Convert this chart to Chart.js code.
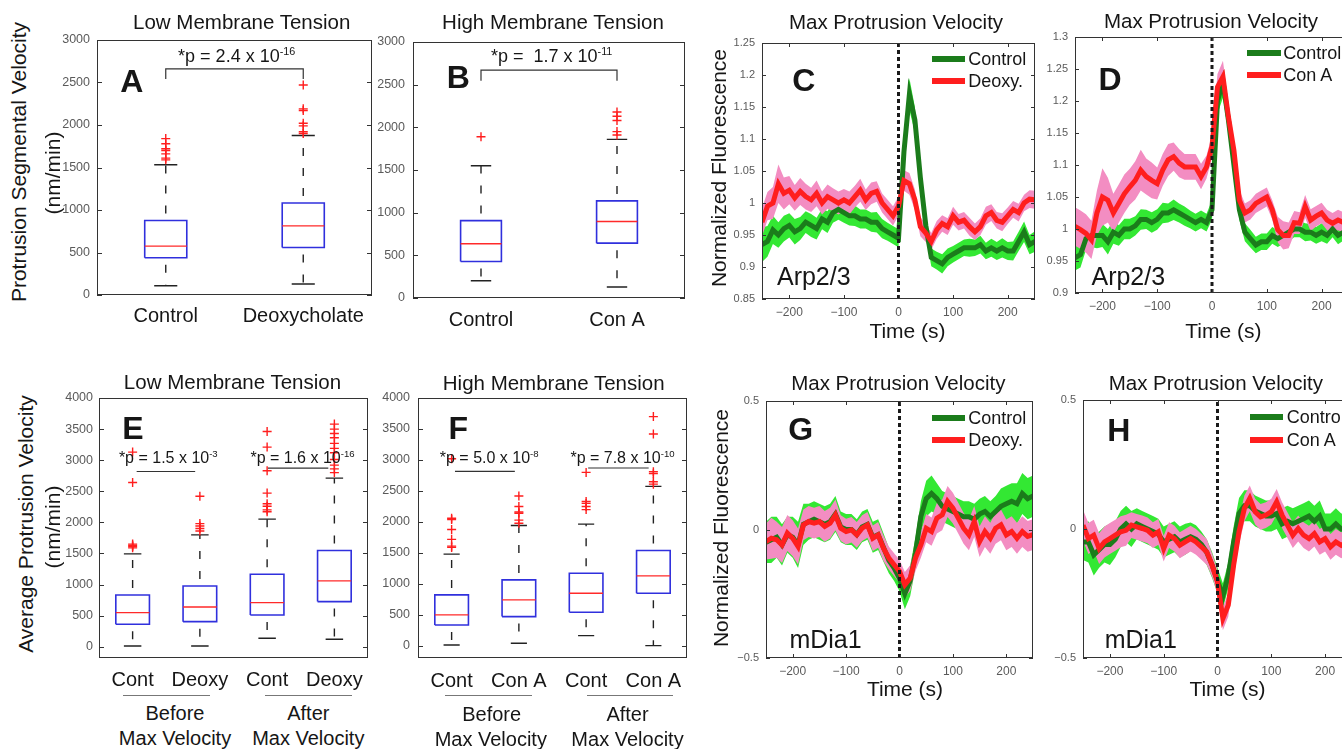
<!DOCTYPE html>
<html lang="en">
<head>
<meta charset="UTF-8">
<title>Membrane tension, protrusion velocity and Arp2/3 / mDia1 fluorescence</title>
<script src="https://cdn.jsdelivr.net/npm/chart.js"></script>
<style>
  body { margin: 0; width: 1342px; height: 749px; overflow: hidden; background: #fff; position: relative;
         font-family: "Liberation Sans", Arial, sans-serif; color: #161616; }
  canvas { position: absolute; }
  .lbl { position: absolute; white-space: nowrap; line-height: 1; transform: translate(-50%, -50%); }
  .lbl sup { font-size: 0.6em; vertical-align: 0; position: relative; top: -0.6em; line-height: 0; }
  .bar { position: absolute; height: 6px; }
  .rule { position: absolute; height: 1px; background: #777; }
</style>
</head>
<body>
<script>
// ---------- box plots: velocities in nm/min ----------
const aLabels = ['Control', 'Deoxycholate'];
const aQ1 = [438, 559];
const aMed = [575, 813];
const aQ3 = [876, 1083];
const aLow = [109, 129];
const aHigh = [1533, 1877];
const aOut = [[1590, 1610, 1660, 1700, 1720, 1780, 1840], [1900, 1920, 1990, 2020, 2170, 2190, 2470]];
const aBracket = { top: 2660, leg: 2540 };

const bLabels = ['Control', 'Con A'];
const bQ1 = [428, 643];
const bMed = [635, 896];
const bQ3 = [907, 1138];
const bLow = [202, 129];
const bHigh = [1550, 1859];
const bOut = [[1890], [1910, 1950, 2080, 2130, 2180]];
const bBracket = { top: 2670, leg: 2545 };

const eLabels = ['Cont', 'Deoxy', 'Cont', 'Deoxy'];
const eQ1 = [360, 403, 510, 725];
const eMed = [548, 639, 709, 1058];
const eQ3 = [832, 977, 1166, 1546];
const eLow = [10, 10, 135, 119];
const eHigh = [1493, 1799, 2051, 2711];
const eOut = [[1590, 1610, 1630, 1650, 2640, 3130],
              [1860, 1900, 1940, 1980, 2420],
              [2170, 2200, 2260, 2300, 2470, 2830, 3210, 3460],
              [2800, 2860, 2920, 3010, 3120, 3190, 3270, 3360, 3430, 3500, 3580]];
const eBars = [{ from: 1.06, to: 1.93, y: 2818 }, { from: 3.01, to: 3.91, y: 2873 }];

const fLabels = ['Cont', 'Con A', 'Cont', 'Con A'];
const fQ1 = [339, 474, 544, 851];
const fMed = [501, 743, 851, 1131];
const fQ3 = [824, 1066, 1174, 1540];
const fLow = [16, 43, 167, 5];
const fHigh = [1481, 1944, 1966, 2574];
const fOut = [[1590, 1610, 1720, 1880, 2040, 2060, 3020],
              [1980, 2030, 2140, 2160, 2250, 2420],
              [2200, 2250, 2300, 2330, 2800],
              [2610, 2650, 2780, 2810, 3420, 3700]];
const fBars = [{ from: 1.05, to: 1.94, y: 2816 }, { from: 3.03, to: 3.93, y: 2871 }];

const boxTicks3000 = [0, 500, 1000, 1500, 2000, 2500, 3000];
const boxTicks4000 = [0, 500, 1000, 1500, 2000, 2500, 3000, 3500, 4000];

// ---------- fluorescence traces around max protrusion velocity ----------
const timeS = [-250, -240, -230, -220, -210, -200, -190, -180, -170, -160, -150, -140, -130, -120, -110, -100,
  -90, -80, -70, -60, -50, -40, -30, -20, -10, 0, 10, 20, 30, 40, 50, 60, 70, 80, 90, 100, 110, 120, 130,
  140, 150, 160, 170, 180, 190, 200, 210, 220, 230, 240, 250];
const timeTicks = [-200, -100, 0, 100, 200];

// C: Arp2/3, control vs deoxycholate
const cControl = [0.935, 0.940, 0.958, 0.950, 0.960, 0.965, 0.955, 0.960, 0.970, 0.965, 0.960, 0.975, 0.970,
  0.985, 0.990, 0.985, 0.980, 0.980, 0.975, 0.975, 0.970, 0.970, 0.960, 0.955, 0.950, 0.945, 1.080, 1.170,
  1.130, 1.040, 0.965, 0.915, 0.910, 0.905, 0.915, 0.920, 0.925, 0.930, 0.930, 0.930, 0.935, 0.925, 0.930,
  0.925, 0.930, 0.925, 0.925, 0.940, 0.955, 0.935, 0.940];
const cControlErr = [0.027, 0.024, 0.022, 0.020, 0.020, 0.019, 0.020, 0.018, 0.017, 0.018, 0.017, 0.016, 0.017,
  0.016, 0.016, 0.016, 0.015, 0.016, 0.015, 0.015, 0.015, 0.016, 0.015, 0.014, 0.014, 0.014, 0.018, 0.025,
  0.020, 0.017, 0.015, 0.014, 0.014, 0.015, 0.014, 0.013, 0.013, 0.013, 0.014, 0.013, 0.014, 0.013, 0.014,
  0.014, 0.015, 0.014, 0.015, 0.015, 0.016, 0.015, 0.016];
const cDeoxy = [0.970, 0.995, 1.000, 1.030, 1.015, 1.020, 1.008, 1.018, 1.010, 1.005, 1.015, 1.000, 1.010,
  1.005, 1.000, 1.005, 1.000, 1.010, 1.020, 1.005, 1.015, 1.018, 1.000, 0.990, 0.980, 0.995, 1.035, 1.030,
  1.005, 0.963, 0.953, 0.940, 0.958, 0.968, 0.963, 0.980, 0.970, 0.973, 0.963, 0.955, 0.963, 0.980, 0.985,
  0.973, 0.970, 0.980, 0.990, 0.985, 1.000, 1.006, 1.005];
const cDeoxyErr = [0.022, 0.022, 0.025, 0.030, 0.025, 0.022, 0.020, 0.021, 0.020, 0.019, 0.020, 0.018, 0.019,
  0.018, 0.018, 0.017, 0.018, 0.017, 0.018, 0.016, 0.017, 0.016, 0.015, 0.015, 0.015, 0.015, 0.016, 0.017,
  0.016, 0.015, 0.014, 0.013, 0.014, 0.013, 0.013, 0.014, 0.013, 0.013, 0.014, 0.013, 0.013, 0.014, 0.013,
  0.013, 0.014, 0.013, 0.013, 0.014, 0.013, 0.014, 0.014];
const cTicks = [0.85, 0.9, 0.95, 1, 1.05, 1.1, 1.15, 1.2, 1.25];

// D: Arp2/3, control vs Con A
const dControl = [0.955, 0.960, 0.985, 0.990, 0.990, 0.990, 0.980, 0.995, 0.990, 1.000, 1.000, 1.005, 1.015,
  1.015, 1.010, 1.015, 1.025, 1.025, 1.030, 1.025, 1.020, 1.015, 1.010, 1.015, 1.010, 1.030, 1.200, 1.230,
  1.170, 1.100, 1.030, 0.995, 0.985, 0.975, 0.980, 0.980, 0.990, 0.985, 0.990, 0.995, 1.000, 1.000, 0.995,
  0.995, 0.990, 0.995, 0.990, 1.000, 0.990, 0.995, 0.995];
const dControlErr = [0.020, 0.020, 0.018, 0.018, 0.020, 0.018, 0.020, 0.018, 0.016, 0.016, 0.016, 0.015, 0.016,
  0.015, 0.016, 0.016, 0.016, 0.015, 0.016, 0.015, 0.015, 0.014, 0.014, 0.014, 0.014, 0.015, 0.020, 0.025,
  0.020, 0.018, 0.016, 0.014, 0.014, 0.013, 0.013, 0.013, 0.013, 0.013, 0.013, 0.014, 0.013, 0.013, 0.014,
  0.013, 0.013, 0.014, 0.013, 0.013, 0.014, 0.013, 0.013];
const dConA = [1.004, 0.999, 0.993, 0.983, 1.025, 1.050, 1.045, 1.025, 1.040, 1.055, 1.066, 1.076, 1.092,
  1.082, 1.076, 1.071, 1.092, 1.108, 1.113, 1.103, 1.097, 1.097, 1.097, 1.082, 1.097, 1.129, 1.222, 1.238,
  1.175, 1.123, 1.045, 1.025, 1.030, 1.040, 1.045, 1.050, 1.030, 0.999, 0.990, 0.990, 1.010, 1.009, 1.035,
  1.014, 1.020, 1.025, 1.014, 1.009, 1.014, 1.010, 1.010];
const dConAErr = [0.030, 0.030, 0.030, 0.030, 0.035, 0.045, 0.035, 0.030, 0.030, 0.030, 0.028, 0.030, 0.032,
  0.028, 0.028, 0.025, 0.025, 0.025, 0.022, 0.022, 0.020, 0.020, 0.020, 0.020, 0.018, 0.018, 0.020, 0.025,
  0.020, 0.018, 0.016, 0.015, 0.015, 0.015, 0.015, 0.015, 0.015, 0.020, 0.022, 0.020, 0.018, 0.017, 0.018,
  0.017, 0.016, 0.016, 0.016, 0.016, 0.016, 0.016, 0.016];
const dTicks = [0.9, 0.95, 1, 1.05, 1.1, 1.15, 1.2, 1.25, 1.3];

// G: mDia1, control vs deoxycholate
const gControl = [-0.05, -0.04, -0.03, -0.06, -0.02, -0.03, -0.06, 0.02, 0.03, 0.04, 0.03, 0.02, 0.03, 0.06,
  0.01, 0.00, 0.00, -0.02, 0.01, 0.02, -0.03, -0.02, -0.07, -0.12, -0.15, -0.19, -0.25, -0.20, -0.09, 0.05,
  0.12, 0.14, 0.12, 0.09, 0.08, 0.07, 0.06, 0.05, 0.05, 0.04, 0.06, 0.07, 0.05, 0.07, 0.09, 0.10, 0.11, 0.10,
  0.14, 0.12, 0.13];
const gControlErr = [0.08, 0.09, 0.08, 0.08, 0.07, 0.08, 0.09, 0.08, 0.07, 0.07, 0.07, 0.07, 0.07, 0.07, 0.06,
  0.06, 0.06, 0.06, 0.06, 0.06, 0.06, 0.06, 0.055, 0.05, 0.05, 0.05, 0.06, 0.06, 0.06, 0.06, 0.07, 0.07, 0.06,
  0.06, 0.06, 0.06, 0.06, 0.06, 0.06, 0.06, 0.06, 0.06, 0.06, 0.06, 0.07, 0.07, 0.07, 0.08, 0.08, 0.08, 0.08];
const gDeoxy = [-0.047, -0.034, -0.040, -0.060, -0.014, -0.034, -0.066, 0.018, 0.031, 0.025, 0.031, 0.012,
  0.025, 0.057, 0.005, -0.008, -0.001, -0.021, 0.005, 0.018, -0.034, -0.021, -0.073, -0.111, -0.137, -0.163,
  -0.215, -0.189, -0.111, -0.060, 0.005, -0.008, 0.044, 0.057, 0.109, 0.083, 0.044, 0.005, -0.021, 0.031,
  -0.047, -0.008, -0.034, 0.005, 0.018, -0.021, -0.008, -0.034, -0.008, -0.027, -0.020];
const gDeoxyErr = [0.07, 0.08, 0.07, 0.07, 0.07, 0.07, 0.07, 0.06, 0.06, 0.06, 0.06, 0.06, 0.06, 0.06, 0.05,
  0.05, 0.05, 0.05, 0.05, 0.05, 0.05, 0.05, 0.05, 0.045, 0.045, 0.045, 0.05, 0.05, 0.05, 0.05, 0.055, 0.055,
  0.06, 0.06, 0.06, 0.06, 0.06, 0.06, 0.06, 0.06, 0.06, 0.06, 0.06, 0.06, 0.06, 0.06, 0.06, 0.06, 0.06, 0.06, 0.06];
const gTicks = [-0.5, 0, 0.5];

// H: mDia1, control vs Con A
const hControl = [-0.05, -0.05, -0.10, -0.08, -0.06, -0.06, -0.04, 0.00, 0.02, 0.00, 0.02, 0.01, 0.00, -0.01,
  -0.02, -0.05, -0.04, -0.03, -0.05, -0.04, -0.03, -0.04, -0.06, -0.09, -0.14, -0.20, -0.26, -0.18, -0.05,
  0.06, 0.09, 0.09, 0.07, 0.06, 0.05, 0.05, 0.06, 0.02, 0.03, 0.02, 0.03, 0.04, 0.05, 0.03, 0.05, 0.00, 0.00,
  0.02, 0.00, 0.00, 0.00];
const hControlErr = [0.07, 0.08, 0.08, 0.07, 0.07, 0.08, 0.07, 0.07, 0.07, 0.07, 0.06, 0.06, 0.06, 0.06, 0.06,
  0.06, 0.06, 0.06, 0.06, 0.06, 0.055, 0.055, 0.05, 0.05, 0.05, 0.05, 0.05, 0.05, 0.06, 0.06, 0.06, 0.06,
  0.06, 0.06, 0.06, 0.06, 0.06, 0.06, 0.06, 0.06, 0.06, 0.06, 0.06, 0.06, 0.06, 0.06, 0.06, 0.06, 0.06, 0.06, 0.06];
const hConA = [0.015, -0.037, -0.024, -0.076, -0.050, -0.037, -0.024, -0.011, -0.005, 0.015, 0.008, 0.002,
  -0.005, -0.024, -0.011, -0.076, -0.024, -0.037, -0.063, -0.050, -0.037, -0.050, -0.069, -0.089, -0.140,
  -0.205, -0.347, -0.295, -0.140, -0.011, 0.080, 0.119, 0.067, 0.047, 0.054, 0.067, 0.105, 0.054, 0.015,
  -0.024, 0.002, -0.024, -0.037, -0.018, -0.050, -0.037, -0.069, -0.050, -0.063, -0.050, -0.050];
const hConAErr = [0.06, 0.06, 0.06, 0.06, 0.06, 0.06, 0.06, 0.06, 0.06, 0.05, 0.05, 0.05, 0.05, 0.05, 0.05,
  0.05, 0.05, 0.05, 0.05, 0.05, 0.05, 0.05, 0.05, 0.05, 0.045, 0.045, 0.045, 0.045, 0.045, 0.05, 0.05, 0.05,
  0.05, 0.05, 0.05, 0.05, 0.05, 0.05, 0.05, 0.05, 0.05, 0.05, 0.05, 0.05, 0.05, 0.05, 0.05, 0.05, 0.05, 0.05, 0.05];

// ---------- drawing ----------
const FONT = '"Liberation Sans", Arial, sans-serif';
const GREEN = '#1b7c1b', GREEN_BAND = '#33e833', RED = '#ff1e1e', PINK = '#f38dc2';

// frame round the plot area plus MATLAB-style inward tick marks
const framePlugin = {
  id: 'frame',
  afterDatasetsDraw(chart, args, opts) {
    const { ctx, chartArea: a, scales } = chart;
    const len = opts.tickLen || 5;
    ctx.save();
    ctx.strokeStyle = '#333';
    ctx.lineWidth = 1;
    ctx.beginPath();
    scales.y.ticks.forEach(t => {
      const py = Math.round(scales.y.getPixelForValue(t.value)) + 0.5;
      ctx.moveTo(a.left, py); ctx.lineTo(a.left + len, py);
      ctx.moveTo(a.right, py); ctx.lineTo(a.right - len, py);
    });
    if (opts.xTicks) {
      scales.x.ticks.forEach(t => {
        const px = Math.round(scales.x.getPixelForValue(t.value)) + 0.5;
        ctx.moveTo(px, a.bottom); ctx.lineTo(px, a.bottom - len);
        ctx.moveTo(px, a.top); ctx.lineTo(px, a.top + len);
      });
    }
    ctx.stroke();
    ctx.strokeRect(Math.round(a.left) + 0.5, Math.round(a.top) + 0.5,
                   Math.round(a.right - a.left) - 1, Math.round(a.bottom - a.top) - 1);
    ctx.restore();
  }
};

// fixed axis sizes so the plot area lands exactly where it should
function fixWidth(w) {
  return s => { s.width = w; s.paddingTop = 0; s.paddingBottom = 0; s.paddingLeft = 0; s.paddingRight = 0; };
}
function fixHeight(h) {
  return s => { s.height = h; s.paddingTop = 0; s.paddingBottom = 0; s.paddingLeft = 0; s.paddingRight = 0; };
}

function makeCanvas(rect, pad) {
  const c = document.createElement('canvas');
  const w = rect.R - rect.L + pad.l + pad.r;
  const h = rect.B - rect.T + pad.t + pad.b;
  c.width = w; c.height = h;
  c.style.left = (rect.L - pad.l) + 'px';
  c.style.top = (rect.T - pad.t) + 'px';
  c.style.width = w + 'px';
  c.style.height = h + 'px';
  document.body.appendChild(c);
  return c;
}

function segLine(points, color, width, extra) {
  return Object.assign({ data: points, showLine: true, borderColor: color, borderWidth: width,
    pointRadius: 0, fill: false, tension: 0, spanGaps: false }, extra || {});
}

function boxPanel(rect, cfg) {
  const pad = { l: 45, t: 10, r: 6, b: 42 };
  const canvas = makeCanvas(rect, pad);
  const box = [], med = [], whisk = [], caps = [], outl = [];
  cfg.q1.forEach((q1, i) => {
    const x = i + 1, h = cfg.half, c = cfg.cap;
    const q3 = cfg.q3[i];
    box.push({ x: x - h, y: q1 }, { x: x + h, y: q1 }, { x: x + h, y: q3 }, { x: x - h, y: q3 },
             { x: x - h, y: q1 }, { x: x, y: null });
    med.push({ x: x - h, y: cfg.med[i] }, { x: x + h, y: cfg.med[i] }, { x: x, y: null });
    whisk.push({ x, y: q3 }, { x, y: cfg.high[i] }, { x, y: null }, { x, y: q1 }, { x, y: cfg.low[i] }, { x, y: null });
    caps.push({ x: x - c, y: cfg.high[i] }, { x: x + c, y: cfg.high[i] }, { x, y: null },
              { x: x - c, y: cfg.low[i] }, { x: x + c, y: cfg.low[i] }, { x, y: null });
    cfg.out[i].forEach(v => outl.push({ x, y: v }));
  });
  const sig = [];
  if (cfg.bracket) {
    const b = cfg.bracket;
    sig.push({ x: 1, y: b.leg }, { x: 1, y: b.top }, { x: 2, y: b.top }, { x: 2, y: b.leg });
  }
  (cfg.bars || []).forEach(b => sig.push({ x: b.from, y: b.y }, { x: b.to, y: b.y }, { x: b.to, y: null }));

  const datasets = [
    { data: outl, showLine: false, pointStyle: 'cross', pointRadius: 4.5, borderColor: RED, borderWidth: 1.4 },
    segLine(med, '#ff2a2a', 1.4),
    segLine(box, '#3030dd', 1.6),
    segLine(caps, '#222', 1.4),
    segLine(whisk, '#222', 1.4, { borderDash: [8, 12], borderDashOffset: 13 }),
    segLine(sig, '#333', 1.2)
  ];

  new Chart(canvas, {
    type: 'scatter',
    data: { datasets },
    options: {
      responsive: false, animation: false, events: [],
      layout: { padding: { left: 0, top: pad.t, right: pad.r, bottom: 0 } },
      plugins: { legend: { display: false }, tooltip: { enabled: false }, frame: { tickLen: 5 } },
      scales: {
        x: {
          type: 'linear', min: 0.5, max: cfg.labels.length + 0.5,
          afterBuildTicks: s => { s.ticks = cfg.labels.map((_, i) => ({ value: i + 1 })); },
          afterFit: fixHeight(pad.b),
          grid: { display: false, drawTicks: false }, border: { display: false },
          ticks: { autoSkip: false, maxRotation: 0, padding: cfg.xPad, color: '#161616',
                   font: { family: FONT, size: 20 }, callback: v => cfg.labels[Math.round(v) - 1] }
        },
        y: {
          type: 'linear', min: cfg.yMin, max: cfg.yMax,
          afterBuildTicks: s => { s.ticks = cfg.ticks.map(v => ({ value: v })); },
          afterFit: fixWidth(pad.l),
          grid: { display: false, drawTicks: false }, border: { display: false },
          ticks: { padding: cfg.yPad, color: '#5a5a5a', font: { family: FONT, size: 12.5 }, callback: v => String(v) }
        }
      }
    },
    plugins: [framePlugin]
  });
}

function tracePanel(rect, cfg) {
  const pad = { l: 40, t: 10, r: 6, b: 26 };
  const canvas = makeCanvas(rect, pad);
  const pts = arr => arr.map((v, i) => ({ x: timeS[i], y: v }));
  const up = (m, e) => m.map((v, i) => ({ x: timeS[i], y: v + e[i] }));
  const dn = (m, e) => m.map((v, i) => ({ x: timeS[i], y: v - e[i] }));
  const yMin = cfg.ticks[0], yMax = cfg.ticks[cfg.ticks.length - 1];
  const band = { borderWidth: 0, pointRadius: 0, tension: 0, showLine: true };
  const datasets = [
    { data: [{ x: 0, y: yMin }, { x: 0, y: yMax }], borderColor: '#1a1a1a', borderWidth: 3,
      borderDash: [4, 3], pointRadius: 0, fill: false, order: -1 },
    { data: pts(cfg.red), borderColor: RED, borderWidth: 5, pointRadius: 0, fill: false, tension: 0, order: 0 },
    { data: pts(cfg.green), borderColor: GREEN, borderWidth: 5, pointRadius: 0, fill: false, tension: 0, order: 1 },
    Object.assign({ data: up(cfg.red, cfg.redErr), fill: '+1', backgroundColor: PINK, order: 2 }, band),
    Object.assign({ data: dn(cfg.red, cfg.redErr), fill: false, order: 3 }, band),
    Object.assign({ data: up(cfg.green, cfg.greenErr), fill: '+1', backgroundColor: GREEN_BAND, order: 4 }, band),
    Object.assign({ data: dn(cfg.green, cfg.greenErr), fill: false, order: 5 }, band)
  ];
  const fmt = v => (v < 0 ? '\u2212' : '') + String(+Math.abs(v).toFixed(2));
  new Chart(canvas, {
    type: 'line',
    data: { datasets },
    options: {
      responsive: false, animation: false, events: [],
      layout: { padding: { left: 0, top: pad.t, right: pad.r, bottom: 0 } },
      plugins: { legend: { display: false }, tooltip: { enabled: false }, frame: { tickLen: 4, xTicks: true } },
      scales: {
        x: {
          type: 'linear', min: -250, max: 250,
          afterBuildTicks: s => { s.ticks = timeTicks.map(v => ({ value: v })); },
          afterFit: fixHeight(pad.b),
          grid: { display: false, drawTicks: false }, border: { display: false },
          ticks: { autoSkip: false, maxRotation: 0, padding: 6, color: '#5a5a5a',
                   font: { family: FONT, size: 12 }, callback: fmt }
        },
        y: {
          type: 'linear', min: yMin, max: yMax,
          afterBuildTicks: s => { s.ticks = cfg.ticks.map(v => ({ value: v })); },
          afterFit: fixWidth(pad.l),
          grid: { display: false, drawTicks: false }, border: { display: false },
          ticks: { padding: 7, color: '#5a5a5a', font: { family: FONT, size: 11 }, callback: fmt }
        }
      }
    },
    plugins: [framePlugin]
  });
}

boxPanel({ L: 97, T: 40, R: 372, B: 295 }, { labels: aLabels, q1: aQ1, med: aMed, q3: aQ3, low: aLow, high: aHigh,
  out: aOut, bracket: aBracket, half: 0.153, cap: 0.084, yMin: 0, yMax: 3000, ticks: boxTicks3000, xPad: 9, yPad: 7 });
boxPanel({ L: 413, T: 42, R: 685, B: 298 }, { labels: bLabels, q1: bQ1, med: bMed, q3: bQ3, low: bLow, high: bHigh,
  out: bOut, bracket: bBracket, half: 0.15, cap: 0.075, yMin: 0, yMax: 3000, ticks: boxTicks3000, xPad: 10, yPad: 8 });
boxPanel({ L: 99, T: 398, R: 368, B: 658 }, { labels: eLabels, q1: eQ1, med: eMed, q3: eQ3, low: eLow, high: eHigh,
  out: eOut, bars: eBars, half: 0.25, cap: 0.13, yMin: -182, yMax: 4000, ticks: boxTicks4000, xPad: 10, yPad: 6 });
boxPanel({ L: 418, T: 398, R: 687, B: 658 }, { labels: fLabels, q1: fQ1, med: fMed, q3: fQ3, low: fLow, high: fHigh,
  out: fOut, bars: fBars, half: 0.25, cap: 0.12, yMin: -194, yMax: 4000, ticks: boxTicks4000, xPad: 11, yPad: 8 });

tracePanel({ L: 762, T: 43, R: 1035, B: 299 }, { green: cControl, greenErr: cControlErr, red: cDeoxy, redErr: cDeoxyErr, ticks: cTicks });
tracePanel({ L: 1075, T: 37, R: 1349, B: 293 }, { green: dControl, greenErr: dControlErr, red: dConA, redErr: dConAErr, ticks: dTicks });
tracePanel({ L: 766, T: 401, R: 1033, B: 658 }, { green: gControl, greenErr: gControlErr, red: gDeoxy, redErr: gDeoxyErr, ticks: gTicks });
tracePanel({ L: 1083, T: 400, R: 1352, B: 658 }, { green: hControl, greenErr: hControlErr, red: hConA, redErr: hConAErr, ticks: gTicks });

// ---------- text ----------
function addText(html, x, y, size, opt) {
  opt = opt || {};
  const d = document.createElement('div');
  d.className = 'lbl';
  d.innerHTML = html;
  d.style.left = x + 'px';
  d.style.top = y + 'px';
  d.style.fontSize = size + 'px';
  if (opt.bold) d.style.fontWeight = 'bold';
  if (opt.rot) d.style.transform = 'translate(-50%, -50%) rotate(-90deg)';
  if (opt.left) d.style.transform = 'translate(0, -50%)';
  document.body.appendChild(d);
}
function addBar(x1, x2, y, color) {
  const d = document.createElement('div');
  d.className = 'bar';
  d.style.left = x1 + 'px'; d.style.width = (x2 - x1) + 'px';
  d.style.top = (y - 3) + 'px'; d.style.background = color;
  document.body.appendChild(d);
}
function addRule(x1, x2, y) {
  const d = document.createElement('div');
  d.className = 'rule';
  d.style.left = x1 + 'px'; d.style.width = (x2 - x1) + 'px'; d.style.top = y + 'px';
  document.body.appendChild(d);
}

// panel titles
addText('Low Membrane Tension', 241.7, 21.7, 20.5);
addText('High Membrane Tension', 553, 21.7, 20.5);
addText('Max Protrusion Velocity', 896, 21.7, 20.5);
addText('Max Protrusion Velocity', 1211, 20.7, 20.5);
addText('Low Membrane Tension', 232.5, 381.7, 20.5);
addText('High Membrane Tension', 553.7, 383.3, 20.5);
addText('Max Protrusion Velocity', 898.3, 383.3, 20.5);
addText('Max Protrusion Velocity', 1215.8, 383.3, 20.5);

// axis titles
addText('Protrusion Segmental Velocity', 18.3, 161.7, 21, { rot: true });
addText('(nm/min)', 51.7, 172.5, 21, { rot: true });
addText('Average Protrusion Velocity', 25, 524.2, 21, { rot: true });
addText('(nm/min)', 51.7, 526.7, 21, { rot: true });
addText('Normalized Fluorescence', 718.3, 168.3, 21, { rot: true });
addText('Normalized Fluorescence', 720, 528.3, 21, { rot: true });
addText('Time (s)', 907.5, 330, 21);
addText('Time (s)', 1223.3, 330, 21);
addText('Time (s)', 905, 688.3, 21);
addText('Time (s)', 1227.5, 688.3, 21);

// panel letters
addText('A', 131.7, 80.8, 32, { bold: true });
addText('B', 458.3, 76.7, 32, { bold: true });
addText('C', 803.7, 79.5, 32, { bold: true });
addText('D', 1110, 79.2, 32, { bold: true });
addText('E', 133, 427.5, 32, { bold: true });
addText('F', 458.3, 427.5, 32, { bold: true });
addText('G', 800.8, 429.2, 32, { bold: true });
addText('H', 1118.7, 430, 32, { bold: true });

// protein labels
addText('Arp2/3', 813.8, 275.5, 25);
addText('Arp2/3', 1128.3, 275.5, 25);
addText('mDia1', 825.5, 639, 25);
addText('mDia1', 1140.8, 639, 25);

// p-values
addText('*p = 2.4 x 10<sup>-16</sup>', 236.7, 55.8, 18);
addText('*p =&nbsp; 1.7 x 10<sup>-11</sup>', 551.7, 55.8, 18);
addText('*p = 1.5 x 10<sup>-3</sup>', 168.3, 457.5, 16);
addText('*p = 1.6 x 10<sup>-16</sup>', 302.5, 457.5, 16);
addText('*p = 5.0 x 10<sup>-8</sup>', 489.2, 457.5, 16);
addText('*p = 7.8 x 10<sup>-10</sup>', 622.5, 457.5, 16);

// group labels under E and F
addRule(123.3, 210, 695); addRule(265, 351.7, 695);
addRule(445, 532.3, 695); addRule(586.7, 673.3, 695);
addText('Before', 175, 713, 20); addText('Max Velocity', 175, 738, 20);
addText('After', 308.3, 713, 20); addText('Max Velocity', 308.3, 738, 20);
addText('Before', 491.7, 714, 20); addText('Max Velocity', 490.8, 739, 20);
addText('After', 627.5, 714, 20); addText('Max Velocity', 627.5, 739, 20);

// legends
addBar(931.7, 965, 59.3, GREEN); addText('Control', 968.3, 59.3, 18, { left: true });
addBar(931.7, 965, 80.7, RED); addText('Deoxy.', 968.3, 80.7, 18, { left: true });
addBar(1246.7, 1280.7, 52.7, GREEN); addText('Control', 1283.3, 52.7, 18, { left: true });
addBar(1246.7, 1280.7, 75, RED); addText('Con A', 1283.3, 75, 18, { left: true });
addBar(931.7, 965, 417.7, GREEN); addText('Control', 968.3, 417.7, 18, { left: true });
addBar(931.7, 965, 440, RED); addText('Deoxy.', 968.3, 440, 18, { left: true });
addBar(1250, 1283.3, 416.7, GREEN); addText('Control', 1286.7, 416.7, 18, { left: true });
addBar(1250, 1283.3, 440, RED); addText('Con A', 1286.7, 440, 18, { left: true });
</script>
</body>
</html>
